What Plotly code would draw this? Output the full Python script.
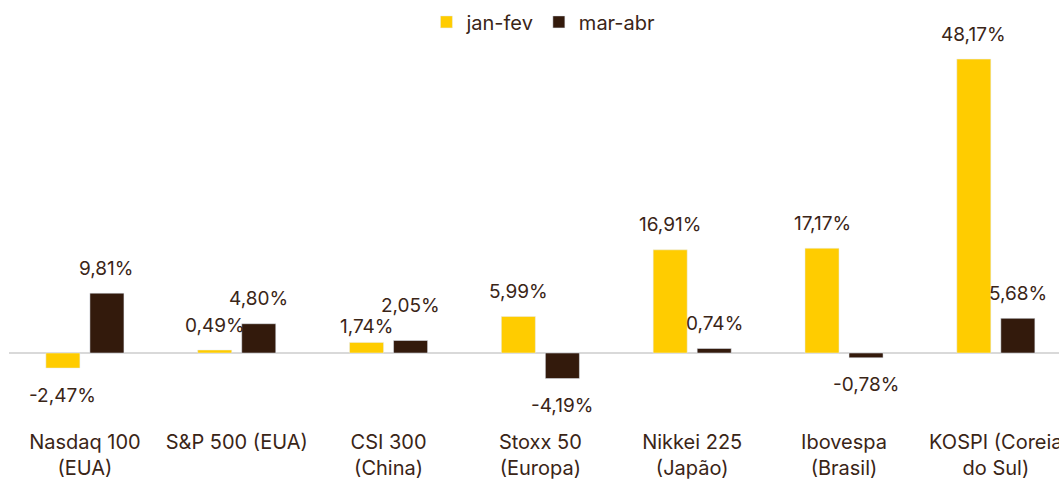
import plotly.graph_objects as go

categories = ["Nasdaq 100<br>(EUA)", "S&P 500 (EUA)", "CSI 300<br>(China)", "Stoxx 50<br>(Europa)",
              "Nikkei 225<br>(Japão)", "Ibovespa<br>(Brasil)", "KOSPI (Coreia<br>do Sul)"]
jan_fev = [-2.47, 0.49, 1.74, 5.99, 16.91, 17.17, 48.17]
mar_abr = [9.81, 4.80, 2.05, -4.19, 0.74, -0.78, 5.68]
series_names = ["jan-fev", "mar-abr"]
# label collision nudges (px) used in the source for CSI 300
nudge_jan = [0, 0, -9, 0, 0, 0, 0]
nudge_mar = [0, 0, 10, 0, 0, 0, 0]

YELLOW = "#FFCC00"
BROWN = "#331A0C"
TEXT = "#3A2517"
FONT = "Inter"

fig = go.Figure()
fig.add_trace(go.Bar(x=categories, y=jan_fev, name=series_names[0], marker_color=YELLOW))
fig.add_trace(go.Bar(x=categories, y=mar_abr, name=series_names[1], marker_color=BROWN))

def fmt(v):
    return f"{v:.2f}".replace(".", ",") + "%"

ann = []
for vals, xs, nudges in ((jan_fev, -22, nudge_jan), (mar_abr, 22, nudge_mar)):
    for c, v, n in zip(categories, vals, nudges):
        ann.append(dict(x=c, y=v, text=fmt(v), showarrow=False, xshift=xs,
                        yshift=(25 if v >= 0 else -27) + n, yanchor="middle",
                        font=dict(family=FONT, size=19, color=TEXT)))

fig.update_layout(
    width=1059, height=480,
    margin=dict(l=9, r=0, t=40, b=55, autoexpand=False),
    paper_bgcolor="white", plot_bgcolor="white",
    barmode="group", bargap=0.42, bargroupgap=0.227,
    font=dict(family=FONT, size=19, color=TEXT),
    showlegend=True,
    legend=dict(orientation="h", x=0.509, xanchor="center", y=1.047, yanchor="middle",
                font=dict(family=FONT, size=20, color=TEXT), itemwidth=30),
    xaxis=dict(type="category", range=[-0.5, 6.416], showgrid=False, showline=False,
               automargin=False, ticks="", ticklabelstandoff=3,
               tickfont=dict(family=FONT, size=20, color=TEXT)),
    yaxis=dict(range=[-11.8, 51.3], showgrid=False, showticklabels=False, zeroline=True,
               automargin=False, zerolinecolor="#D9D9D9", zerolinewidth=2),
    annotations=ann,
)
fig.write_html("out.html", config={"displayModeBar": False},
               post_script="document.body.style.margin='0';document.body.style.overflow='hidden';")
